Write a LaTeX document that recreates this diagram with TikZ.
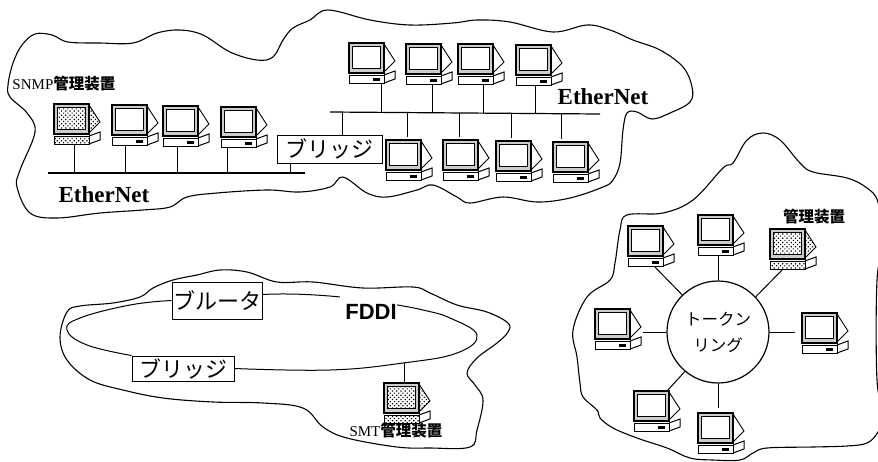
\documentclass[tikz,border=0pt]{standalone}
\usepackage{fontspec}
\setmainfont{Liberation Serif}
\newfontfamily\cjk{Noto Sans CJK JP}
\newfontfamily\fddifont{Liberation Sans}
\usetikzlibrary{patterns.meta}
\tikzset{
  pics/pc/.style={code={
    \node[pcbox] (-box) at (23.5,20) {};
    \path[pic actions,draw,line width=.9pt] (35,1) -- (46,18) -- (35,29) -- cycle;
    \path[fill=gray!40,pic actions,draw,line width=1.5pt] (0,0) rectangle (35,30);
    \draw[fill=white,line width=1pt] (3,3) rectangle (31,25);
    \path[pic actions,draw,line width=1pt] (3,3) rectangle (31,25);
    \path[pic actions,draw,line width=1pt] (0,32) rectangle (35,40);
    \draw[line width=1pt] (35,32) -- (46,28) -- (46,36) -- (35,40);
    \fill (24,35) rectangle (31,37.5);
  }}}
\begin{document}
\begin{tikzpicture}[x=1pt,y=-1pt,line width=1pt,
    pcbox/.style={inner sep=0pt,minimum width=47pt,minimum height=40pt},
    cloud/.style={line width=1.1pt},
    gate/.style={draw,fill=white,inner sep=0pt,font=\cjk\fontsize{22}{22}\selectfont},
    lan/.style={font=\bfseries\fontsize{23}{23}\selectfont,inner sep=0pt},
    tag/.style={inner sep=0pt,font=\fontsize{15}{15}\selectfont},
    mgr/.style={pattern={Dots[distance=3pt,radius=.85pt,angle=45]},pattern color=black}]
  \useasboundingbox (0,0) rectangle (878,461);
  % clouds
  \draw[cloud] plot[smooth cycle,tension=.6] coordinates {(8,85) (13,63) (22,45) (35,34) (52,35) (68,42) (100,43) (133,43) (157,33) (180,30) (203,35) (230,52) (257,60) (273,57) (283,40) (293,28) (310,20) (328,10) (370,20) (410,25) (453,23) (477,20) (510,22) (553,32) (587,25) (610,30) (633,40) (660,50) (683,67) (692,87) (690,102) (670,113) (652,119) (637,112) (627,113) (623,130) (620,163) (613,180) (603,187) (570,198) (537,202) (503,197) (470,203) (457,197) (433,185) (417,190) (387,197) (367,193) (343,177) (330,187) (300,192) (267,190) (217,193) (187,197) (170,207) (143,210) (100,213) (57,218) (30,213) (17,187) (20,170) (35,132) (27,113) (10,97)};
  \draw[cloud] plot[smooth cycle,tension=.6] coordinates {(60,337) (67,312) (80,306) (113,303) (140,297) (153,288) (173,280) (197,275) (220,270) (247,272) (277,282) (313,282) (363,288) (413,287) (430,293) (457,305) (487,312) (508,323) (508,332) (497,343) (477,358) (467,373) (475,385) (483,400) (477,430) (470,447) (430,448) (397,447) (347,438) (323,427) (303,408) (263,403) (213,402) (163,398) (123,390) (90,380) (67,360)};
  \draw[cloud] plot[smooth cycle,tension=.6] coordinates {(580,383) (577,357) (573,330) (587,297) (610,280) (615,263) (620,230) (627,215) (663,213) (693,200) (723,168) (733,163) (747,140) (763,133) (780,140) (800,163) (813,172) (847,178) (867,188) (878,202) (884,240) (877,280) (877,380) (884,415) (878,432) (867,443) (847,446) (813,447) (767,448) (753,453) (740,460) (713,460) (690,458) (667,448) (637,438) (613,428) (600,418) (597,410) (583,397)};
  % left EtherNet
  \pic[mgr] (snmp) at (54,104) {pc};
  \pic (la) at (112,105) {pc};
  \pic (lb) at (163,106) {pc};
  \pic (lc) at (221,107) {pc};
  \coordinate (busl) at (48,173);
  \coordinate (busr) at (305,173);
  \draw[line width=1.2pt] (busl) -- (busr);
  \foreach \a/\x in {snmp/74,la/125,lb/177,lc/227} \draw (\x,173) -- (\x,173 |- \a-box.south);
  \node[gate,minimum width=105pt,minimum height=28pt] (brl) at (329.5,149) {ブリッジ};
  \draw (290,173) -- (290,173 |- brl.south);
  \node[tag,anchor=west] (snmptag) at (12,84) {SNMP{\cjk\bfseries\fontsize{15.5}{15.5}\selectfont 管理装置}};
  \node[lan] (ethl) at (104,195) {EtherNet};
  % right EtherNet
  \foreach \a/\x/\y in {ua/349/43,ub/406/44,uc/458/44,ud/516/45,da/386/140,db/443/140,dc/496/141,dd/553/142} \pic (\a) at (\x,\y) {pc};
  \coordinate (bust) at (330,112);
  \coordinate (bustr) at (600,114);
  \draw[line width=1.2pt] (bust) -- (bustr);
  \foreach \a/\x in {ua/381,ub/432,uc/483,ud/535} \draw (\x,113) -- (\x,113 |- \a-box.south);
  \foreach \a/\x in {da/407,db/459,dc/511,dd/561} \draw[shorten >=3pt] (\x,113) -- (\x,113 |- \a-box.north);
  \draw (342,112) -- (342,112 |- brl.north);
  \node[lan] (ethr) at (603,97) {EtherNet};
  % FDDI
  \node[gate,minimum width=90pt,minimum height=37pt] (rt) at (217,300.5) {ブルータ};
  \node[gate,minimum width=102pt,minimum height=25pt] (brf) at (183,368.5) {ブリッジ};
  \node[inner sep=0pt,font=\fddifont\bfseries\fontsize{22}{22}\selectfont] (fddi) at (371,312) {FDDI};
  \draw ([yshift=6pt]rt.east) .. controls (290,293) and (320,295) .. ([xshift=-5pt,yshift=7pt]fddi.north west);
  \draw plot[smooth,tension=.7] coordinates {([yshift=-1pt]fddi.north east) (423,310) (450,318) (477,335) (457,353) (403,363) (330,370) (brf.east)};
  \draw plot[smooth,tension=.7] coordinates {(rt.west) (130,305) (80,318) (67,330) (87,345) (brf.north west)};
  \pic[mgr] (smt) at (384,383) {pc};
  \coordinate (tap) at (404,363);
  \draw (tap) -- (tap |- smt-box.north);
  \node[tag,anchor=west] (smttag) at (349,431) {SMT{\cjk\bfseries\fontsize{15.5}{15.5}\selectfont 管理装置}};
  % token ring
  \node[draw,circle,minimum size=102pt,inner sep=0pt,align=center,font=\cjk\fontsize{16.5}{26}\selectfont,line width=1.2pt] (ring) at (718,332) {トークン\\リング};
  \foreach \a/\x/\y in {ta/628/226,tb/698/215,td/802/313,te/595/309,tf/634/391,tg/698/413} \pic (\a) at (\x,\y) {pc};
  \pic[mgr] (tc) at (770,229) {pc};
  \node[inner sep=0pt,font=\cjk\bfseries\fontsize{15.5}{15.5}\selectfont] (tctag) at (814,217) {管理装置};
  \draw (ring.134) -- ([xshift=3pt]ta-box.south);
  \draw (ring.north) -- (ring.north |- tb-box.south);
  \draw (ring.43) -- ([xshift=-11pt]tc-box.south);
  \draw[shorten >=7pt] (ring.east) -- (ring.east -| td-box.west);
  \draw (ring.west) -- (ring.west -| te-box.east);
  \draw (ring.230) -- ([xshift=10pt]tf-box.north);
  \draw[shorten >=5pt] (ring.south) -- (ring.south |- tg-box.north);
\end{tikzpicture}
\end{document}
